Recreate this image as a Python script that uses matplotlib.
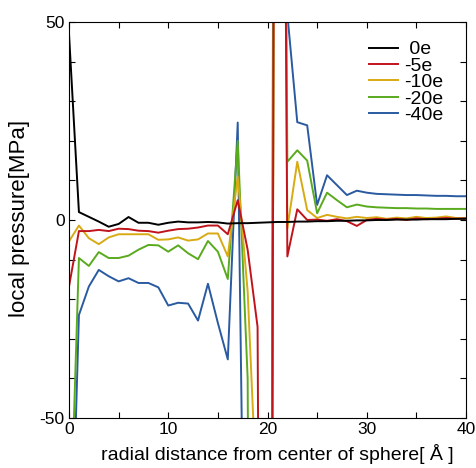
import numpy as np
import matplotlib
matplotlib.use('Agg')
import matplotlib.pyplot as plt

# radial distance grid (Angstrom)
r = np.arange(0, 41)

labels = [' 0e', '-5e', '-10e', '-20e', '-40e']
colors = ['#000000', '#c0141c', '#d8aa14', '#5aaa1e', '#2a5aa0']

p_0e = [47, 2.0, 0.8, -0.4, -1.7, -1.0, 0.75, -0.7, -0.7, -1.2, -0.7, -0.4, -0.6, -0.6, -0.5, -0.6, -0.9,
        -0.8, -0.8, -0.7, -0.6, -0.5, -0.5,
        -0.4, -0.4, -0.3, -0.3, -0.2, -0.2, -0.1, -0.1, 0.0, 0.0, 0.1, 0.1, 0.1, 0.2, 0.2, 0.2, 0.3, 0.3]
p_5e = [-16.8, -2.8, -2.8, -2.5, -2.8, -2.2, -2.3, -2.7, -2.8, -3.2, -2.7, -2.3, -2.2, -1.9, -1.4, -1.4, -3.6,
        5.0, -7.5, -27.0, -500, 400, -9.2,
        2.7, 0.0, 0.1, -0.2, 0.2, -0.3, -1.5, 0.0, 0.3, 0.1, 0.3, 0.0, 0.4, 0.2, 0.3, 0.5, 0.3, 0.4]
p_10e = [-5.4, -1.4, -4.6, -6.1, -4.4, -3.6, -3.6, -3.6, -3.6, -5.0, -4.9, -4.4, -5.2, -4.9, -3.4, -3.4, -9.2,
         11.0, -18.0, -75.0, -500, 400, -2.1,
         14.7, 2.5, 0.5, 1.3, 0.8, 0.4, 0.8, 0.5, 0.7, 0.3, 0.6, 0.4, 0.8, 0.5, 0.6, 0.9, 0.5, 0.5]
p_20e = [-90, -9.6, -11.6, -8.1, -9.6, -9.6, -9.0, -7.5, -6.3, -6.4, -8.0, -6.4, -8.4, -9.9, -5.3, -8.0, -14.9,
         20.0, -40.0, -500, -500, 400, 14.7,
         17.6, 15.0, 1.7, 6.9, 5.0, 3.2, 3.9, 3.4, 3.2, 3.1, 3.0, 3.0, 2.9, 2.9, 2.8, 2.8, 2.8, 2.8]
p_40e = [-110, -24.0, -16.8, -12.6, -14.2, -15.5, -14.7, -15.9, -15.9, -17.0, -21.6, -20.9, -21.1, -25.4, -16.1, -26.0, -35.2,
         24.6, -162, -500, -500, 500, 52,
         24.7, 23.9, 3.8, 11.3, 8.8, 6.3, 7.4, 6.9, 6.6, 6.5, 6.4, 6.3, 6.3, 6.2, 6.1, 6.1, 6.0, 6.0]

series = [p_0e, p_5e, p_10e, p_20e, p_40e]

plt.rcParams['font.family'] = ['Liberation Sans', 'DejaVu Sans']
plt.rcParams['axes.unicode_minus'] = False

fig = plt.figure(figsize=(4.76, 4.68), dpi=100)
ax = fig.add_axes([69 / 476, 1 - 418 / 468, 397 / 476, 396 / 468])

# draw -40e first so the smaller charges end up on top, black last
handles = {}
for i in [4, 3, 2, 1, 0]:
    line, = ax.plot(r, series[i], color=colors[i], lw=1.4, label=labels[i])
    handles[i] = line

ax.set_xlim(0, 40)
ax.set_ylim(-50, 50)
ax.set_xticks([0, 10, 20, 30, 40])
ax.set_xticks(np.arange(0, 41, 5), minor=True)
ax.set_yticks([-50, 0, 50])
ax.set_yticks(np.arange(-50, 51, 10), minor=True)
ax.tick_params(which='both', direction='in', top=True, right=True, length=4, width=0.8,
               labelsize=12.5, pad=3)
for s in ax.spines.values():
    s.set_linewidth(0.8)

ax.set_xlabel('radial distance from center of sphere[ Å ]', fontsize=14)
ax.set_ylabel('local pressure[MPa]', fontsize=16)
ax.xaxis.set_label_coords(0.525, -0.066)
ax.yaxis.set_label_coords(-0.098, 0.505)

ax.legend([handles[i] for i in range(5)], labels, loc='upper right', bbox_to_anchor=(0.973, 0.982),
          frameon=False, fontsize=14, labelspacing=-0.06, handlelength=1.45, handletextpad=0.35,
          borderaxespad=0.2)

fig.savefig('out.png', dpi=100)
